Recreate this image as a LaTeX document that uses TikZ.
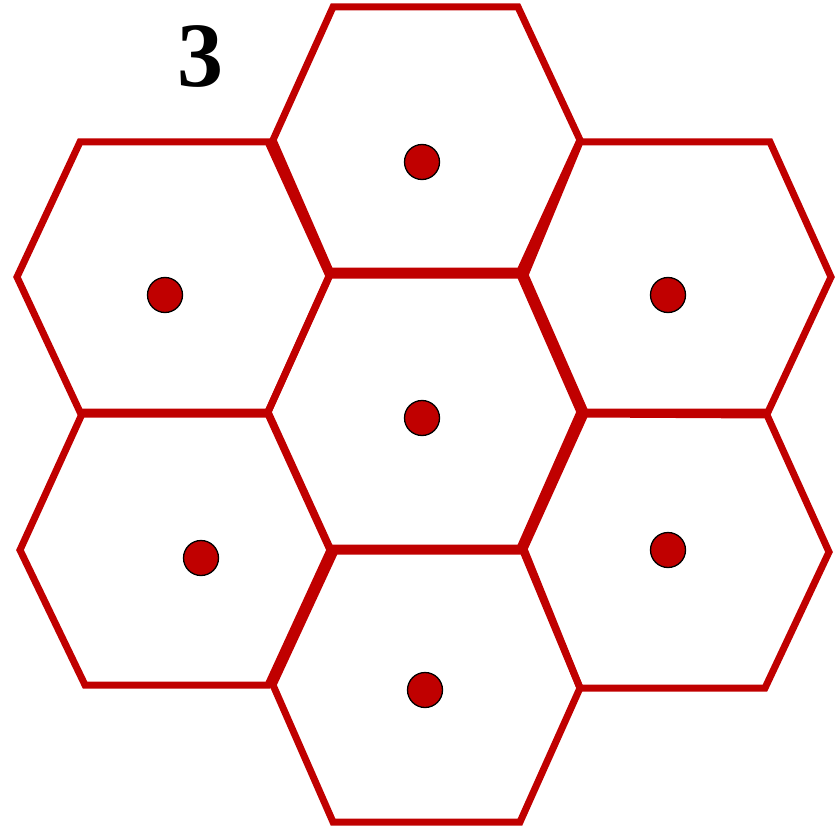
\documentclass[tikz,border=0pt]{standalone}
\usepackage{fontspec}
\setmainfont{Liberation Serif}
\definecolor{hexred}{RGB}{192,0,0}
\begin{document}
\begin{tikzpicture}[x=1pt,y=-1pt,
  hexline/.style={draw=hexred,line width=7pt,line join=miter},
  centerdot/.style={circle,fill=hexred,draw=black,line width=1.3pt,minimum size=35pt,inner sep=0pt},
  numlabel/.style={font=\fontsize{92}{92}\selectfont\bfseries,text=black,inner sep=0pt}]
\useasboundingbox (0,0) rectangle (840,826);
% hexagons
\draw[hexline] (330,275) -- (520,275) -- (580,412) -- (520,548) -- (330,548) -- (268,412) -- cycle;
\draw[hexline] (333,7) -- (518,7) -- (580,140) -- (520,271) -- (330,271) -- (273,140) -- cycle;
\draw[hexline] (80,142) -- (268,142) -- (329,276) -- (268,412) -- (80,412) -- (17,277) -- cycle;
\draw[hexline] (580,142) -- (770,142) -- (831,277) -- (768,412) -- (585,412) -- (525,275) -- cycle;
\draw[hexline] (82,414) -- (268,414) -- (330,550) -- (268,685) -- (85,685) -- (20,550) -- cycle;
\draw[hexline] (585,414) -- (767,415) -- (829,552) -- (765,688) -- (580,688) -- (524,549) -- cycle;
\draw[hexline] (335,551) -- (523,551) -- (580,688) -- (520,822) -- (333,822) -- (273,685) -- cycle;
% dots
\node[centerdot] (c0) at (422,418) {};
\node[centerdot] (c1) at (422,162) {};
\node[centerdot] (c2) at (165,295) {};
\node[centerdot] (c3) at (668,295) {};
\node[centerdot] (c4) at (201,558) {};
\node[centerdot] (c5) at (668,550) {};
\node[centerdot] (c6) at (425,690) {};
% label
\node[numlabel] (lbl) at (200,56) {3};
\end{tikzpicture}
\end{document}
